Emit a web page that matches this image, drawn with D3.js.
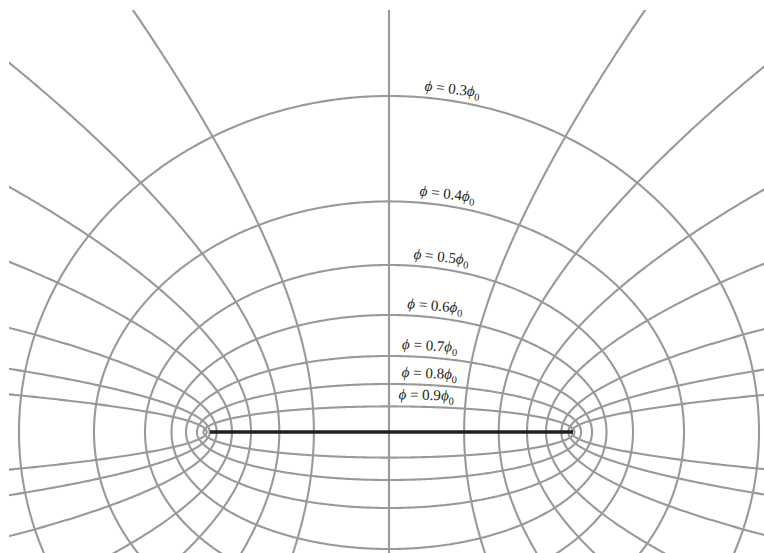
<!DOCTYPE html>
<html><head><meta charset="utf-8">
<script src="https://cdn.jsdelivr.net/npm/d3@7"></script>
<style>html,body{margin:0;padding:0;background:#fff;overflow:hidden;}</style>
</head><body><svg id="chart" width="764" height="553"></svg>
<script>
// ---- data ----
const phiLevels = [0.3, 0.4, 0.5, 0.6, 0.7, 0.8, 0.9];          // equipotentials, in units of phi0
const ellipseSemiMajor = [370, 295, 244, 217.5, 203, 192, 185.5];  // half-width of each equipotential
const ellipseSemiMinor = [336, 230.6, 167, 117, 76, 48, 25.6];     // half-height of each equipotential
const focalHalfDistance = 184;                                     // half the distance between the foci
const fieldLineAngles = [7.7, 12.8, 20.5, 31.4, 41.4, 53.4, 65.9, 90]; // elliptic angle at the strip (deg)
const fieldLineBend = 2.55;                                        // drift of the angle away from the strip
const stripEnds = [-179, 184];                                     // charged strip

// ---- layout ----
const W = 764, H = 553;
const x = d3.scaleLinear().domain([-389, 375]).range([0, W]);
const y = d3.scaleLinear().domain([432, -121]).range([0, H]);
const labelMidX = [62, 57, 51, 45, 40, 40, 37];

const svg = d3.select("#chart");
svg.append("defs").append("clipPath").attr("id", "frame")
  .append("rect").attr("x", 9).attr("y", 10).attr("width", W - 9).attr("height", H - 10);

const g = svg.append("g").attr("clip-path", "url(#frame)");
const line = d3.line().x(d => x(d[0])).y(d => y(d[1]));
const grey = "#999999";

// equipotential ellipses
const tSteps = d3.range(0, 721).map(i => i / 720 * 2 * Math.PI);
g.selectAll("path.eq").data(phiLevels).join("path")
  .attr("class", "eq")
  .attr("d", (p, i) => line(tSteps.map(t => [ellipseSemiMajor[i] * Math.cos(t), ellipseSemiMinor[i] * Math.sin(t)])))
  .attr("fill", "none").attr("stroke", grey).attr("stroke-width", 2.1);

// field lines
const rad = Math.PI / 180;
const uSteps = d3.range(0, 301).map(i => i / 300 * 2.6);
function fieldPoints(v0, sx) {
  const pt = u => {
    const v = (v0 - fieldLineBend * Math.sin(2 * v0 * rad) * u * u) * rad;
    return [sx * focalHalfDistance * Math.cosh(u) * Math.cos(v), focalHalfDistance * Math.sinh(u) * Math.sin(v)];
  };
  const upper = uSteps.slice().reverse().map(pt);
  const lower = uSteps.map(u => { const p = pt(u); return [p[0], -p[1]]; });
  return upper.concat(lower);
}
const fieldData = [];
fieldLineAngles.forEach(v0 => {
  fieldData.push({v0, sx: 1});
  if (v0 !== 90) fieldData.push({v0, sx: -1});
});
g.selectAll("path.fl").data(fieldData).join("path")
  .attr("class", "fl")
  .attr("d", d => line(fieldPoints(d.v0, d.sx)))
  .attr("fill", "none").attr("stroke", grey).attr("stroke-width", 2.1);

// strip
g.append("path").attr("d", line(stripEnds.map(s => [s, 0])))
  .attr("stroke", "#231f20").attr("stroke-width", 3.5).attr("fill", "none");

// labels
const labels = svg.append("g").attr("font-family", "'Liberation Serif','DejaVu Serif',serif").attr("font-size", 15).attr("fill", "#231f20");
phiLevels.forEach((p, i) => {
  const A = ellipseSemiMajor[i], B = ellipseSemiMinor[i], X = labelMidX[i];
  const Y = B * Math.sqrt(1 - (X / A) * (X / A));
  const slope = (B * B / (A * A)) * (X / Y);
  const ang = Math.atan(slope) / rad * 0.75;
  const t = labels.append("text")
    .attr("transform", `translate(${x(X)},${y(Y)}) rotate(${ang})`)
    .attr("text-anchor", "middle").attr("dy", -7);
  t.append("tspan").attr("font-style", "italic").text("\u03D5");
  t.append("tspan").text(" = " + p.toFixed(1));
  t.append("tspan").attr("font-style", "italic").text("\u03D5");
  t.append("tspan").attr("font-size", 10.5).attr("dy", 4).text("0");
});
</script>
</body></html>
